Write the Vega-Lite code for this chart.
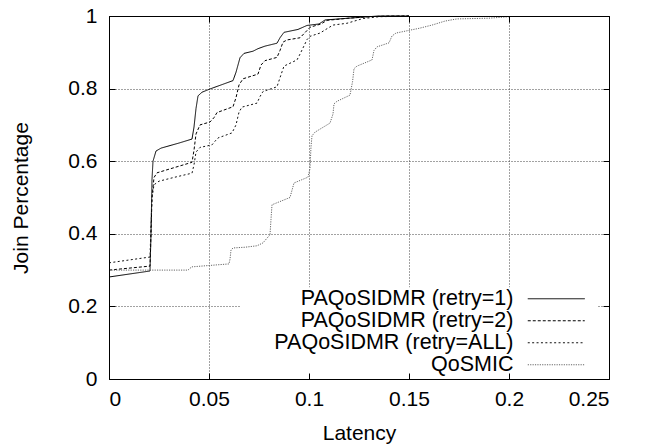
{
  "$schema": "https://vega.github.io/schema/vega-lite/v6.json",
  "width": 500,
  "height": 363,
  "autosize": {"type": "none"},
  "padding": {"left": 109, "top": 16, "right": 38, "bottom": 66},
  "background": "white",
  "config": {
    "view": {"stroke": null},
    "font": "Liberation Sans",
    "axis": {"labelFont": "Liberation Sans", "titleFont": "Liberation Sans", "labelFontSize": 21, "titleFontSize": 21, "titleFontWeight": "normal", "labelColor": "#000", "titleColor": "#000"}
  },
  "data": {
    "values": [
      {"series": "PAQoSIDMR (retry=1)", "x": 0, "y": 0.281},
      {"series": "PAQoSIDMR (retry=1)", "x": 0.0205, "y": 0.2975},
      {"series": "PAQoSIDMR (retry=1)", "x": 0.021, "y": 0.4},
      {"series": "PAQoSIDMR (retry=1)", "x": 0.0215, "y": 0.55},
      {"series": "PAQoSIDMR (retry=1)", "x": 0.022, "y": 0.6},
      {"series": "PAQoSIDMR (retry=1)", "x": 0.0235, "y": 0.628},
      {"series": "PAQoSIDMR (retry=1)", "x": 0.026, "y": 0.636},
      {"series": "PAQoSIDMR (retry=1)", "x": 0.035, "y": 0.65},
      {"series": "PAQoSIDMR (retry=1)", "x": 0.0415, "y": 0.661},
      {"series": "PAQoSIDMR (retry=1)", "x": 0.0425, "y": 0.694},
      {"series": "PAQoSIDMR (retry=1)", "x": 0.0435, "y": 0.745},
      {"series": "PAQoSIDMR (retry=1)", "x": 0.0445, "y": 0.78},
      {"series": "PAQoSIDMR (retry=1)", "x": 0.0465, "y": 0.79},
      {"series": "PAQoSIDMR (retry=1)", "x": 0.0505, "y": 0.799},
      {"series": "PAQoSIDMR (retry=1)", "x": 0.0545, "y": 0.807},
      {"series": "PAQoSIDMR (retry=1)", "x": 0.062, "y": 0.822},
      {"series": "PAQoSIDMR (retry=1)", "x": 0.0635, "y": 0.845},
      {"series": "PAQoSIDMR (retry=1)", "x": 0.0655, "y": 0.885},
      {"series": "PAQoSIDMR (retry=1)", "x": 0.0675, "y": 0.897},
      {"series": "PAQoSIDMR (retry=1)", "x": 0.072, "y": 0.903},
      {"series": "PAQoSIDMR (retry=1)", "x": 0.0745, "y": 0.91},
      {"series": "PAQoSIDMR (retry=1)", "x": 0.078, "y": 0.917},
      {"series": "PAQoSIDMR (retry=1)", "x": 0.084, "y": 0.925},
      {"series": "PAQoSIDMR (retry=1)", "x": 0.0855, "y": 0.94},
      {"series": "PAQoSIDMR (retry=1)", "x": 0.0875, "y": 0.955},
      {"series": "PAQoSIDMR (retry=1)", "x": 0.0945, "y": 0.963},
      {"series": "PAQoSIDMR (retry=1)", "x": 0.099, "y": 0.974},
      {"series": "PAQoSIDMR (retry=1)", "x": 0.105, "y": 0.978},
      {"series": "PAQoSIDMR (retry=1)", "x": 0.108, "y": 0.989},
      {"series": "PAQoSIDMR (retry=1)", "x": 0.115, "y": 0.992},
      {"series": "PAQoSIDMR (retry=1)", "x": 0.127, "y": 0.997},
      {"series": "PAQoSIDMR (retry=1)", "x": 0.135, "y": 1.0},
      {"series": "PAQoSIDMR (retry=1)", "x": 0.15, "y": 1.0},
      {"series": "PAQoSIDMR (retry=2)", "x": 0, "y": 0.3},
      {"series": "PAQoSIDMR (retry=2)", "x": 0.0205, "y": 0.311},
      {"series": "PAQoSIDMR (retry=2)", "x": 0.021, "y": 0.4},
      {"series": "PAQoSIDMR (retry=2)", "x": 0.0215, "y": 0.5},
      {"series": "PAQoSIDMR (retry=2)", "x": 0.0225, "y": 0.555},
      {"series": "PAQoSIDMR (retry=2)", "x": 0.024, "y": 0.568},
      {"series": "PAQoSIDMR (retry=2)", "x": 0.03, "y": 0.578},
      {"series": "PAQoSIDMR (retry=2)", "x": 0.0415, "y": 0.597},
      {"series": "PAQoSIDMR (retry=2)", "x": 0.0425, "y": 0.63},
      {"series": "PAQoSIDMR (retry=2)", "x": 0.0435, "y": 0.675},
      {"series": "PAQoSIDMR (retry=2)", "x": 0.0455, "y": 0.7},
      {"series": "PAQoSIDMR (retry=2)", "x": 0.0505, "y": 0.708},
      {"series": "PAQoSIDMR (retry=2)", "x": 0.0525, "y": 0.72},
      {"series": "PAQoSIDMR (retry=2)", "x": 0.054, "y": 0.734},
      {"series": "PAQoSIDMR (retry=2)", "x": 0.058, "y": 0.742},
      {"series": "PAQoSIDMR (retry=2)", "x": 0.062, "y": 0.75},
      {"series": "PAQoSIDMR (retry=2)", "x": 0.0635, "y": 0.775},
      {"series": "PAQoSIDMR (retry=2)", "x": 0.065, "y": 0.81},
      {"series": "PAQoSIDMR (retry=2)", "x": 0.067, "y": 0.827},
      {"series": "PAQoSIDMR (retry=2)", "x": 0.0745, "y": 0.84},
      {"series": "PAQoSIDMR (retry=2)", "x": 0.076, "y": 0.865},
      {"series": "PAQoSIDMR (retry=2)", "x": 0.078, "y": 0.877},
      {"series": "PAQoSIDMR (retry=2)", "x": 0.084, "y": 0.886},
      {"series": "PAQoSIDMR (retry=2)", "x": 0.0855, "y": 0.905},
      {"series": "PAQoSIDMR (retry=2)", "x": 0.087, "y": 0.928},
      {"series": "PAQoSIDMR (retry=2)", "x": 0.089, "y": 0.934},
      {"series": "PAQoSIDMR (retry=2)", "x": 0.0955, "y": 0.94},
      {"series": "PAQoSIDMR (retry=2)", "x": 0.099, "y": 0.96},
      {"series": "PAQoSIDMR (retry=2)", "x": 0.1005, "y": 0.969},
      {"series": "PAQoSIDMR (retry=2)", "x": 0.106, "y": 0.978},
      {"series": "PAQoSIDMR (retry=2)", "x": 0.109, "y": 0.988},
      {"series": "PAQoSIDMR (retry=2)", "x": 0.12, "y": 0.994},
      {"series": "PAQoSIDMR (retry=2)", "x": 0.13, "y": 0.998},
      {"series": "PAQoSIDMR (retry=2)", "x": 0.14, "y": 1.0},
      {"series": "PAQoSIDMR (retry=2)", "x": 0.15, "y": 1.0},
      {"series": "PAQoSIDMR (retry=ALL)", "x": 0, "y": 0.32},
      {"series": "PAQoSIDMR (retry=ALL)", "x": 0.0205, "y": 0.336},
      {"series": "PAQoSIDMR (retry=ALL)", "x": 0.021, "y": 0.42},
      {"series": "PAQoSIDMR (retry=ALL)", "x": 0.0215, "y": 0.5},
      {"series": "PAQoSIDMR (retry=ALL)", "x": 0.0225, "y": 0.535},
      {"series": "PAQoSIDMR (retry=ALL)", "x": 0.025, "y": 0.545},
      {"series": "PAQoSIDMR (retry=ALL)", "x": 0.033, "y": 0.556},
      {"series": "PAQoSIDMR (retry=ALL)", "x": 0.0415, "y": 0.567},
      {"series": "PAQoSIDMR (retry=ALL)", "x": 0.0425, "y": 0.59},
      {"series": "PAQoSIDMR (retry=ALL)", "x": 0.0435, "y": 0.625},
      {"series": "PAQoSIDMR (retry=ALL)", "x": 0.0455, "y": 0.638},
      {"series": "PAQoSIDMR (retry=ALL)", "x": 0.0515, "y": 0.645},
      {"series": "PAQoSIDMR (retry=ALL)", "x": 0.053, "y": 0.655},
      {"series": "PAQoSIDMR (retry=ALL)", "x": 0.0545, "y": 0.664},
      {"series": "PAQoSIDMR (retry=ALL)", "x": 0.0615, "y": 0.678},
      {"series": "PAQoSIDMR (retry=ALL)", "x": 0.0635, "y": 0.7},
      {"series": "PAQoSIDMR (retry=ALL)", "x": 0.065, "y": 0.735},
      {"series": "PAQoSIDMR (retry=ALL)", "x": 0.0665, "y": 0.749},
      {"series": "PAQoSIDMR (retry=ALL)", "x": 0.074, "y": 0.76},
      {"series": "PAQoSIDMR (retry=ALL)", "x": 0.0755, "y": 0.778},
      {"series": "PAQoSIDMR (retry=ALL)", "x": 0.077, "y": 0.792},
      {"series": "PAQoSIDMR (retry=ALL)", "x": 0.084, "y": 0.805},
      {"series": "PAQoSIDMR (retry=ALL)", "x": 0.0855, "y": 0.83},
      {"series": "PAQoSIDMR (retry=ALL)", "x": 0.0875, "y": 0.862},
      {"series": "PAQoSIDMR (retry=ALL)", "x": 0.094, "y": 0.879},
      {"series": "PAQoSIDMR (retry=ALL)", "x": 0.0955, "y": 0.895},
      {"series": "PAQoSIDMR (retry=ALL)", "x": 0.097, "y": 0.912},
      {"series": "PAQoSIDMR (retry=ALL)", "x": 0.099, "y": 0.935},
      {"series": "PAQoSIDMR (retry=ALL)", "x": 0.1005, "y": 0.944},
      {"series": "PAQoSIDMR (retry=ALL)", "x": 0.1055, "y": 0.953},
      {"series": "PAQoSIDMR (retry=ALL)", "x": 0.109, "y": 0.965},
      {"series": "PAQoSIDMR (retry=ALL)", "x": 0.112, "y": 0.975},
      {"series": "PAQoSIDMR (retry=ALL)", "x": 0.119, "y": 0.98},
      {"series": "PAQoSIDMR (retry=ALL)", "x": 0.127, "y": 0.993},
      {"series": "PAQoSIDMR (retry=ALL)", "x": 0.135, "y": 0.998},
      {"series": "PAQoSIDMR (retry=ALL)", "x": 0.15, "y": 1.0},
      {"series": "QoSMIC", "x": 0, "y": 0.3},
      {"series": "QoSMIC", "x": 0.0395, "y": 0.3},
      {"series": "QoSMIC", "x": 0.0405, "y": 0.305},
      {"series": "QoSMIC", "x": 0.0415, "y": 0.309},
      {"series": "QoSMIC", "x": 0.06, "y": 0.317},
      {"series": "QoSMIC", "x": 0.0605, "y": 0.33},
      {"series": "QoSMIC", "x": 0.061, "y": 0.355},
      {"series": "QoSMIC", "x": 0.062, "y": 0.361},
      {"series": "QoSMIC", "x": 0.068, "y": 0.363},
      {"series": "QoSMIC", "x": 0.074, "y": 0.367},
      {"series": "QoSMIC", "x": 0.077, "y": 0.375},
      {"series": "QoSMIC", "x": 0.079, "y": 0.388},
      {"series": "QoSMIC", "x": 0.0805, "y": 0.397},
      {"series": "QoSMIC", "x": 0.081, "y": 0.44},
      {"series": "QoSMIC", "x": 0.0815, "y": 0.48},
      {"series": "QoSMIC", "x": 0.086, "y": 0.49},
      {"series": "QoSMIC", "x": 0.0905, "y": 0.5},
      {"series": "QoSMIC", "x": 0.0915, "y": 0.52},
      {"series": "QoSMIC", "x": 0.0925, "y": 0.54},
      {"series": "QoSMIC", "x": 0.096, "y": 0.548},
      {"series": "QoSMIC", "x": 0.0995, "y": 0.556},
      {"series": "QoSMIC", "x": 0.1005, "y": 0.58},
      {"series": "QoSMIC", "x": 0.101, "y": 0.64},
      {"series": "QoSMIC", "x": 0.1015, "y": 0.67},
      {"series": "QoSMIC", "x": 0.103, "y": 0.68},
      {"series": "QoSMIC", "x": 0.1105, "y": 0.705},
      {"series": "QoSMIC", "x": 0.112, "y": 0.73},
      {"series": "QoSMIC", "x": 0.1125, "y": 0.758},
      {"series": "QoSMIC", "x": 0.114, "y": 0.765},
      {"series": "QoSMIC", "x": 0.1205, "y": 0.782},
      {"series": "QoSMIC", "x": 0.1218, "y": 0.82},
      {"series": "QoSMIC", "x": 0.1225, "y": 0.855},
      {"series": "QoSMIC", "x": 0.124, "y": 0.862},
      {"series": "QoSMIC", "x": 0.1315, "y": 0.879},
      {"series": "QoSMIC", "x": 0.1325, "y": 0.905},
      {"series": "QoSMIC", "x": 0.134, "y": 0.915},
      {"series": "QoSMIC", "x": 0.14, "y": 0.926},
      {"series": "QoSMIC", "x": 0.1415, "y": 0.945},
      {"series": "QoSMIC", "x": 0.1435, "y": 0.953},
      {"series": "QoSMIC", "x": 0.1505, "y": 0.961},
      {"series": "QoSMIC", "x": 0.155, "y": 0.966},
      {"series": "QoSMIC", "x": 0.1615, "y": 0.975},
      {"series": "QoSMIC", "x": 0.168, "y": 0.986},
      {"series": "QoSMIC", "x": 0.174, "y": 0.992},
      {"series": "QoSMIC", "x": 0.19, "y": 0.994},
      {"series": "QoSMIC", "x": 0.2, "y": 0.998}
    ]
  },
  "resolve": {"axis": {"x": "independent", "y": "independent"}},
  "layer": [
    {
      "data": {"values": [{"x1": 0.0655, "x2": 0.244, "y1": 0, "y2": 0.253}]},
      "mark": {"type": "rect", "fill": "white", "strokeWidth": 0},
      "encoding": {
        "x": {"field": "x1", "type": "quantitative", "scale": {"domain": [0, 0.25], "nice": false, "zero": false},
          "axis": {"orient": "bottom", "values": [0, 0.05, 0.1, 0.15, 0.2, 0.25], "grid": true, "gridColor": "#444", "gridDash": [1, 2], "gridWidth": 1, "domain": false, "ticks": false, "labels": false, "title": null, "zindex": 0}},
        "x2": {"field": "x2"},
        "y": {"field": "y1", "type": "quantitative", "scale": {"domain": [0, 1], "nice": false, "zero": false},
          "axis": {"orient": "left", "values": [0, 0.2, 0.4, 0.6, 0.8, 1], "grid": true, "gridColor": "#444", "gridDash": [1, 2], "gridWidth": 1, "domain": false, "ticks": false, "labels": false, "title": null, "zindex": 0}},
        "y2": {"field": "y2"}
      }
    },
    {
      "transform": [{"filter": "datum.series !== 'QoSMIC'"}],
      "mark": {"type": "line", "strokeWidth": 1, "interpolate": "linear"},
      "encoding": {
        "x": {"field": "x", "type": "quantitative",
          "axis": {"orient": "bottom", "values": [0, 0.05, 0.1, 0.15, 0.2, 0.25], "format": "~g", "grid": false, "domain": true, "domainColor": "#000", "domainWidth": 1, "ticks": true, "tickColor": "#000", "tickSize": -6, "labelPadding": 15, "title": "Latency", "titlePadding": 13, "zindex": 1}},
        "y": {"field": "y", "type": "quantitative",
          "axis": {"orient": "left", "values": [0, 0.2, 0.4, 0.6, 0.8, 1], "format": "~g", "grid": false, "domain": true, "domainColor": "#000", "domainWidth": 1, "ticks": true, "tickColor": "#000", "tickSize": -6, "labelPadding": 18, "title": "Join Percentage", "titlePadding": 36, "zindex": 1}},
        "color": {"field": "series", "type": "nominal",
          "scale": {"domain": ["PAQoSIDMR (retry=1)", "PAQoSIDMR (retry=2)", "PAQoSIDMR (retry=ALL)", "QoSMIC"], "range": ["#000000", "#000000", "#111111", "#666666"]},
          "legend": {"orient": "none", "legendX": 403, "legendY": 272, "title": null, "symbolType": "M-3,0H3", "symbolSize": 361, "symbolStrokeWidth": 1, "symbolOffset": 33.5, "labelAlign": "right", "labelOffset": -53.5, "labelFontSize": 21.5, "labelFont": "Liberation Sans", "labelColor": "#000", "labelLimit": 400, "rowPadding": -1.6, "labelBaseline": "middle"}},
        "strokeDash": {"field": "series", "type": "nominal",
          "scale": {"domain": ["PAQoSIDMR (retry=1)", "PAQoSIDMR (retry=2)", "PAQoSIDMR (retry=ALL)", "QoSMIC"], "range": [[1, 0], [3, 2], [2, 2.4], [1.2, 1.2]]},
          "legend": {"orient": "none", "legendX": 403, "legendY": 272, "title": null, "symbolType": "M-3,0H3", "symbolSize": 361, "symbolStrokeWidth": 1, "symbolOffset": 33.5, "labelAlign": "right", "labelOffset": -53.5, "labelFontSize": 21.5, "labelFont": "Liberation Sans", "labelColor": "#000", "labelLimit": 400, "rowPadding": -1.6, "labelBaseline": "middle"}}
      }
    },
    {
      "transform": [{"filter": "datum.series === 'QoSMIC'"}],
      "mark": {"type": "line", "strokeWidth": 1, "interpolate": "linear"},
      "encoding": {
        "x": {"field": "x", "type": "quantitative",
          "axis": {"orient": "top", "values": [0, 0.05, 0.1, 0.15, 0.2, 0.25], "grid": false, "domain": true, "domainColor": "#000", "domainWidth": 1, "ticks": true, "tickColor": "#000", "tickSize": -6, "labels": false, "title": null, "zindex": 1}},
        "y": {"field": "y", "type": "quantitative",
          "axis": {"orient": "right", "values": [0, 0.2, 0.4, 0.6, 0.8, 1], "grid": false, "domain": true, "domainColor": "#000", "domainWidth": 1, "ticks": true, "tickColor": "#000", "tickSize": -6, "labels": false, "title": null, "zindex": 1}},
        "color": {"field": "series", "type": "nominal"},
        "strokeDash": {"field": "series", "type": "nominal"}
      }
    }
  ]
}
